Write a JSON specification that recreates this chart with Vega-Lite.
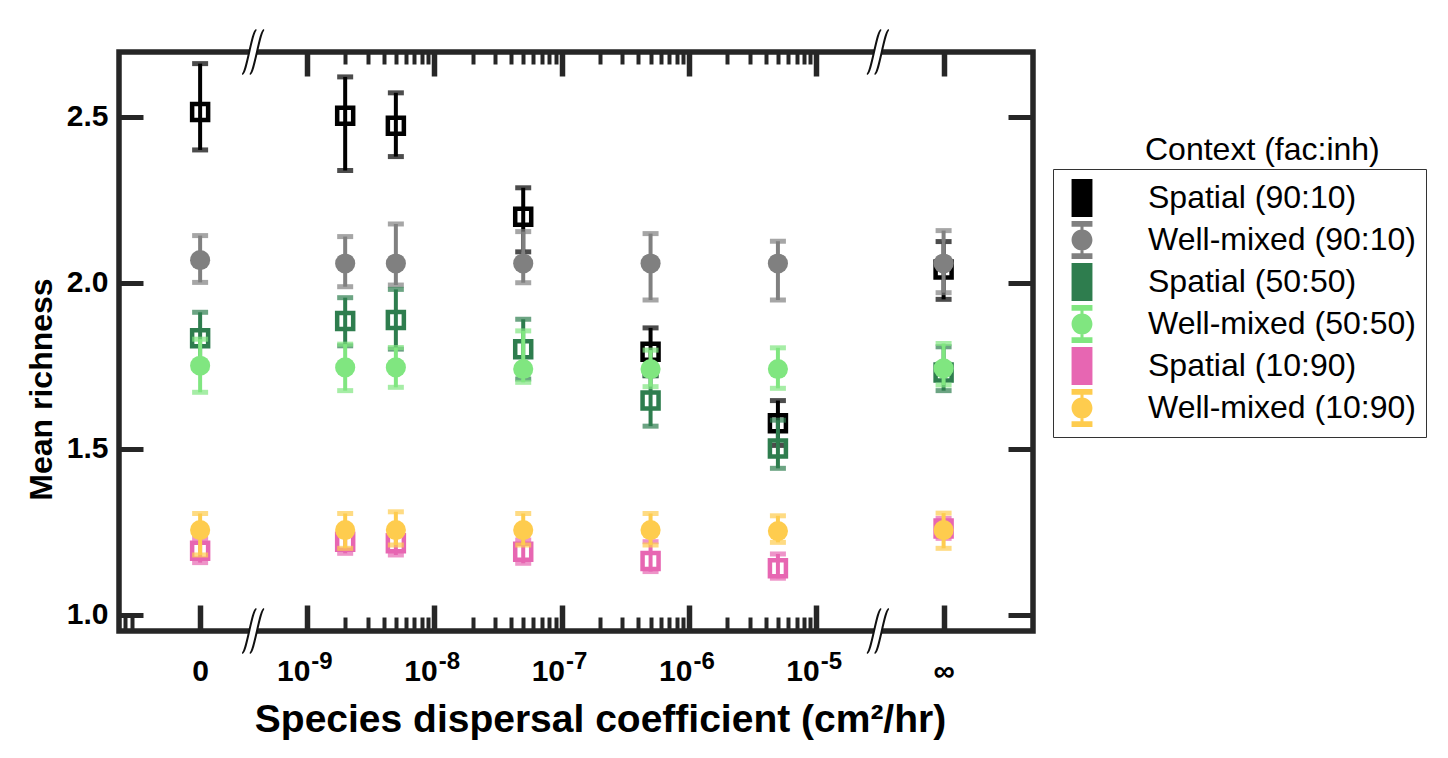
{
  "$schema": "https://vega.github.io/schema/vega-lite/v6.json",
  "width": 914,
  "height": 579,
  "autosize": {"type": "none"},
  "padding": {"left": 119, "top": 52, "right": 415, "bottom": 127},
  "background": "white",
  "config": {
    "view": {"stroke": "#262626", "strokeWidth": 5.5},
    "font": "Liberation Sans",
    "axis": {"domain": false, "grid": false, "tickColor": "#262626", "tickCap": "butt"}
  },
  "title": {
    "text": "Context (fac:inh)",
    "anchor": "start",
    "frame": "group",
    "orient": "top",
    "offset": 0,
    "dx": 1026,
    "dy": 166,
    "baseline": "alphabetic",
    "font": "Liberation Sans",
    "fontSize": 32,
    "fontWeight": "normal",
    "color": "black"
  },
  "data": {
    "values": [
      {"series": "Spatial (90:10)", "dispersal": "0", "pos": -9.838, "mean": 2.514, "lo": 2.40, "hi": 2.66},
      {"series": "Spatial (90:10)", "dispersal": "2e-9", "pos": -8.699, "mean": 2.503, "lo": 2.338, "hi": 2.62},
      {"series": "Spatial (90:10)", "dispersal": "5e-9", "pos": -8.301, "mean": 2.473, "lo": 2.38, "hi": 2.572},
      {"series": "Spatial (90:10)", "dispersal": "5e-8", "pos": -7.301, "mean": 2.199, "lo": 2.093, "hi": 2.286},
      {"series": "Spatial (90:10)", "dispersal": "5e-7", "pos": -6.301, "mean": 1.792, "lo": 1.72, "hi": 1.864},
      {"series": "Spatial (90:10)", "dispersal": "5e-6", "pos": -5.301, "mean": 1.577, "lo": 1.51, "hi": 1.645},
      {"series": "Spatial (90:10)", "dispersal": "inf", "pos": -4.0, "mean": 2.04, "lo": 1.95, "hi": 2.124},
      {"series": "Well-mixed (90:10)", "dispersal": "0", "pos": -9.838, "mean": 2.068, "lo": 2.001, "hi": 2.142},
      {"series": "Well-mixed (90:10)", "dispersal": "2e-9", "pos": -8.699, "mean": 2.058, "lo": 1.988, "hi": 2.139},
      {"series": "Well-mixed (90:10)", "dispersal": "5e-9", "pos": -8.301, "mean": 2.058, "lo": 1.993, "hi": 2.177},
      {"series": "Well-mixed (90:10)", "dispersal": "5e-8", "pos": -7.301, "mean": 2.058, "lo": 2.0, "hi": 2.154},
      {"series": "Well-mixed (90:10)", "dispersal": "5e-7", "pos": -6.301, "mean": 2.058, "lo": 1.948, "hi": 2.148},
      {"series": "Well-mixed (90:10)", "dispersal": "5e-6", "pos": -5.301, "mean": 2.058, "lo": 1.948, "hi": 2.125},
      {"series": "Well-mixed (90:10)", "dispersal": "inf", "pos": -4.0, "mean": 2.058, "lo": 1.97, "hi": 2.157},
      {"series": "Spatial (50:50)", "dispersal": "0", "pos": -9.838, "mean": 1.833, "lo": 1.75, "hi": 1.911},
      {"series": "Spatial (50:50)", "dispersal": "2e-9", "pos": -8.699, "mean": 1.885, "lo": 1.81, "hi": 1.955},
      {"series": "Spatial (50:50)", "dispersal": "5e-9", "pos": -8.301, "mean": 1.888, "lo": 1.80, "hi": 1.98},
      {"series": "Spatial (50:50)", "dispersal": "5e-8", "pos": -7.301, "mean": 1.80, "lo": 1.71, "hi": 1.89},
      {"series": "Spatial (50:50)", "dispersal": "5e-7", "pos": -6.301, "mean": 1.645, "lo": 1.568, "hi": 1.72},
      {"series": "Spatial (50:50)", "dispersal": "5e-6", "pos": -5.301, "mean": 1.501, "lo": 1.441, "hi": 1.586},
      {"series": "Spatial (50:50)", "dispersal": "inf", "pos": -4.0, "mean": 1.73, "lo": 1.675, "hi": 1.807},
      {"series": "Well-mixed (50:50)", "dispersal": "0", "pos": -9.838, "mean": 1.75, "lo": 1.67, "hi": 1.83},
      {"series": "Well-mixed (50:50)", "dispersal": "2e-9", "pos": -8.699, "mean": 1.745, "lo": 1.675, "hi": 1.815},
      {"series": "Well-mixed (50:50)", "dispersal": "5e-9", "pos": -8.301, "mean": 1.745, "lo": 1.685, "hi": 1.805},
      {"series": "Well-mixed (50:50)", "dispersal": "5e-8", "pos": -7.301, "mean": 1.74, "lo": 1.70, "hi": 1.855},
      {"series": "Well-mixed (50:50)", "dispersal": "5e-7", "pos": -6.301, "mean": 1.74, "lo": 1.687, "hi": 1.797},
      {"series": "Well-mixed (50:50)", "dispersal": "5e-6", "pos": -5.301, "mean": 1.74, "lo": 1.682, "hi": 1.804},
      {"series": "Well-mixed (50:50)", "dispersal": "inf", "pos": -4.0, "mean": 1.742, "lo": 1.692, "hi": 1.817},
      {"series": "Spatial (10:90)", "dispersal": "0", "pos": -9.838, "mean": 1.193, "lo": 1.157, "hi": 1.23},
      {"series": "Spatial (10:90)", "dispersal": "2e-9", "pos": -8.699, "mean": 1.22, "lo": 1.185, "hi": 1.255},
      {"series": "Spatial (10:90)", "dispersal": "5e-9", "pos": -8.301, "mean": 1.215, "lo": 1.18, "hi": 1.25},
      {"series": "Spatial (10:90)", "dispersal": "5e-8", "pos": -7.301, "mean": 1.19, "lo": 1.155, "hi": 1.225},
      {"series": "Spatial (10:90)", "dispersal": "5e-7", "pos": -6.301, "mean": 1.162, "lo": 1.13, "hi": 1.22},
      {"series": "Spatial (10:90)", "dispersal": "5e-6", "pos": -5.301, "mean": 1.14, "lo": 1.11, "hi": 1.183},
      {"series": "Spatial (10:90)", "dispersal": "inf", "pos": -4.0, "mean": 1.26, "lo": 1.23, "hi": 1.29},
      {"series": "Well-mixed (10:90)", "dispersal": "0", "pos": -9.838, "mean": 1.255, "lo": 1.18, "hi": 1.305},
      {"series": "Well-mixed (10:90)", "dispersal": "2e-9", "pos": -8.699, "mean": 1.255, "lo": 1.20, "hi": 1.305},
      {"series": "Well-mixed (10:90)", "dispersal": "5e-9", "pos": -8.301, "mean": 1.255, "lo": 1.21, "hi": 1.31},
      {"series": "Well-mixed (10:90)", "dispersal": "5e-8", "pos": -7.301, "mean": 1.255, "lo": 1.21, "hi": 1.305},
      {"series": "Well-mixed (10:90)", "dispersal": "5e-7", "pos": -6.301, "mean": 1.255, "lo": 1.21, "hi": 1.305},
      {"series": "Well-mixed (10:90)", "dispersal": "5e-6", "pos": -5.301, "mean": 1.252, "lo": 1.218, "hi": 1.298},
      {"series": "Well-mixed (10:90)", "dispersal": "inf", "pos": -4.0, "mean": 1.255, "lo": 1.20, "hi": 1.306}
    ]
  },
  "resolve": {
    "scale": {"x": "shared", "y": "shared", "color": "shared"},
    "axis": {"x": "independent", "y": "independent"}
  },
  "layer": [
    {
      "mark": {"type": "point", "filled": true, "opacity": 0, "size": 100},
      "encoding": {
        "x": {
          "field": "pos", "type": "quantitative", "scale": {"domain": [-10.475, -3.298]},
          "axis": {
            "orient": "bottom",
            "values": [-10.427, -10.376, -9.838, -9, -8.699, -8.523, -8.398, -8.301, -8.222, -8.155, -8.097, -8.046, -8, -7.699, -7.523, -7.398, -7.301, -7.222, -7.155, -7.097, -7.046, -7, -6.699, -6.523, -6.398, -6.301, -6.222, -6.155, -6.097, -6.046, -6, -5.699, -5.523, -5.398, -5.301, -5.222, -5.155, -5.097, -5.046, -5, -4],
            "labelExpr": "abs(datum.value + 9.838) < 0.01 ? '0' : indexof([-9, -8, -7, -6, -5], datum.value) >= 0 ? '10' : abs(datum.value + 4) < 0.01 ? '∞' : ''",
            "tickSize": {"condition": {"test": "indexof([-9.838, -9, -8, -7, -6, -5, -4], datum.value) >= 0", "value": -26}, "value": -14},
            "tickWidth": {"condition": {"test": "indexof([-9.838, -9, -8, -7, -6, -5, -4], datum.value) >= 0", "value": 5.5}, "value": 4},
            "labelAlign": {"condition": {"test": "indexof([-9, -8, -7, -6, -5], datum.value) >= 0", "value": "right"}, "value": "center"},
            "labelOffset": {"condition": {"test": "indexof([-9, -8, -7, -6, -5], datum.value) >= 0", "value": 3}, "value": 0},
            "labelFont": "Liberation Sans", "labelFontSize": 30, "labelFontWeight": "bold", "labelColor": "black",
            "labelPadding": 51, "labelOverlap": false, "labelFlush": false, "labelBound": false,
            "title": "Species dispersal coefficient (cm²/hr)",
            "titleFont": "Liberation Sans", "titleFontSize": 39, "titleFontWeight": "bold", "titleColor": "black", "titlePadding": 2,
            "titleX": 481
          }
        },
        "y": {
          "field": "mean", "type": "quantitative", "scale": {"domain": [0.951, 2.695]},
          "axis": {
            "orient": "left", "values": [1, 1.5, 2, 2.5], "format": ".1f",
            "tickSize": -24, "tickWidth": 5,
            "labelFont": "Liberation Sans", "labelFontSize": 30, "labelFontWeight": "bold", "labelColor": "black", "labelPadding": 35,
            "title": "Mean richness",
            "titleFont": "Liberation Sans", "titleFontSize": 32, "titleFontWeight": "bold", "titleColor": "black", "titlePadding": 8,
            "titleY": 337
          }
        },
        "color": {
          "field": "series", "type": "nominal",
          "scale": {
            "domain": ["Spatial (90:10)", "Well-mixed (90:10)", "Spatial (50:50)", "Well-mixed (50:50)", "Spatial (10:90)", "Well-mixed (10:90)"],
            "range": ["#000000", "#808080", "#2e7d4e", "#80e680", "#e766b2", "#fecc4e"]
          },
          "legend": {
            "title": null, "orient": "none", "legendX": 934, "legendY": 117, "padding": 10,
            "strokeColor": "#333333", "labelFont": "Liberation Sans", "labelFontSize": 32, "labelColor": "black", "labelLimit": 500,
            "symbolSize": 1444, "labelOffset": 47, "rowPadding": 4, "symbolStrokeWidth": 0, "symbolOpacity": 1
          }
        },
        "shape": {
          "field": "series", "type": "nominal",
          "scale": {
            "domain": ["Spatial (90:10)", "Well-mixed (90:10)", "Spatial (50:50)", "Well-mixed (50:50)", "Spatial (10:90)", "Well-mixed (10:90)"],
            "range": [
              "M-0.55,-1H0.55V1H-0.55Z",
              "M-0.55,-1H0.55V-0.7H-0.55ZM-0.55,0.7H0.55V1H-0.55ZM-0.08,-0.7H0.08V0.7H-0.08ZM-0.55,0A0.55,0.55 0 1,1 0.55,0A0.55,0.55 0 1,1 -0.55,0Z",
              "M-0.55,-1H0.55V1H-0.55Z",
              "M-0.55,-1H0.55V-0.7H-0.55ZM-0.55,0.7H0.55V1H-0.55ZM-0.08,-0.7H0.08V0.7H-0.08ZM-0.55,0A0.55,0.55 0 1,1 0.55,0A0.55,0.55 0 1,1 -0.55,0Z",
              "M-0.55,-1H0.55V1H-0.55Z",
              "M-0.55,-1H0.55V-0.7H-0.55ZM-0.55,0.7H0.55V1H-0.55ZM-0.08,-0.7H0.08V0.7H-0.08ZM-0.55,0A0.55,0.55 0 1,1 0.55,0A0.55,0.55 0 1,1 -0.55,0Z"
            ]
          },
          "legend": {
            "title": null, "orient": "none", "legendX": 934, "legendY": 117, "padding": 10,
            "strokeColor": "#333333", "labelFont": "Liberation Sans", "labelFontSize": 32, "labelColor": "black", "labelLimit": 500,
            "symbolSize": 1444, "labelOffset": 47, "rowPadding": 4, "symbolStrokeWidth": 0, "symbolOpacity": 1
          }
        }
      }
    },
    {
      "transform": [{"filter": {"field": "series", "equal": "Spatial (90:10)"}}],
      "encoding": {
        "x": {"field": "pos", "type": "quantitative", "scale": {"domain": [-10.475, -3.298]}, "axis": null},
        "color": {"field": "series", "type": "nominal", "legend": null}
      },
      "layer": [
        {"mark": {"type": "errorbar", "thickness": 4, "ticks": {"size": 16, "thickness": 5}},
         "encoding": {"y": {"field": "lo", "type": "quantitative", "scale": {"domain": [0.951, 2.695]}, "axis": null}, "y2": {"field": "hi"}}},
        {"mark": {"type": "point", "shape": "square", "filled": false, "strokeWidth": 4.5, "size": 256, "opacity": 1},
         "encoding": {"y": {"field": "mean", "type": "quantitative", "scale": {"domain": [0.951, 2.695]}, "axis": null}}}
      ]
    },
    {
      "transform": [{"filter": {"field": "series", "equal": "Well-mixed (90:10)"}}],
      "encoding": {
        "x": {"field": "pos", "type": "quantitative", "scale": {"domain": [-10.475, -3.298]}, "axis": null},
        "color": {"field": "series", "type": "nominal", "legend": null}
      },
      "layer": [
        {"mark": {"type": "errorbar", "thickness": 4, "ticks": {"size": 16, "thickness": 5}},
         "encoding": {"y": {"field": "lo", "type": "quantitative", "scale": {"domain": [0.951, 2.695]}, "axis": null}, "y2": {"field": "hi"}}},
        {"mark": {"type": "point", "shape": "circle", "filled": true, "size": 405, "opacity": 1},
         "encoding": {"y": {"field": "mean", "type": "quantitative", "scale": {"domain": [0.951, 2.695]}, "axis": null}}}
      ]
    },
    {
      "transform": [{"filter": {"field": "series", "equal": "Spatial (50:50)"}}],
      "encoding": {
        "x": {"field": "pos", "type": "quantitative", "scale": {"domain": [-10.475, -3.298]}, "axis": null},
        "color": {"field": "series", "type": "nominal", "legend": null}
      },
      "layer": [
        {"mark": {"type": "errorbar", "thickness": 4, "ticks": {"size": 16, "thickness": 5}},
         "encoding": {"y": {"field": "lo", "type": "quantitative", "scale": {"domain": [0.951, 2.695]}, "axis": null}, "y2": {"field": "hi"}}},
        {"mark": {"type": "point", "shape": "square", "filled": false, "strokeWidth": 4.5, "size": 256, "opacity": 1},
         "encoding": {"y": {"field": "mean", "type": "quantitative", "scale": {"domain": [0.951, 2.695]}, "axis": null}}}
      ]
    },
    {
      "transform": [{"filter": {"field": "series", "equal": "Well-mixed (50:50)"}}],
      "encoding": {
        "x": {"field": "pos", "type": "quantitative", "scale": {"domain": [-10.475, -3.298]}, "axis": null},
        "color": {"field": "series", "type": "nominal", "legend": null}
      },
      "layer": [
        {"mark": {"type": "errorbar", "thickness": 4, "ticks": {"size": 16, "thickness": 5}},
         "encoding": {"y": {"field": "lo", "type": "quantitative", "scale": {"domain": [0.951, 2.695]}, "axis": null}, "y2": {"field": "hi"}}},
        {"mark": {"type": "point", "shape": "circle", "filled": true, "size": 405, "opacity": 1},
         "encoding": {"y": {"field": "mean", "type": "quantitative", "scale": {"domain": [0.951, 2.695]}, "axis": null}}}
      ]
    },
    {
      "transform": [{"filter": {"field": "series", "equal": "Spatial (10:90)"}}],
      "encoding": {
        "x": {"field": "pos", "type": "quantitative", "scale": {"domain": [-10.475, -3.298]}, "axis": null},
        "color": {"field": "series", "type": "nominal", "legend": null}
      },
      "layer": [
        {"mark": {"type": "errorbar", "thickness": 4, "ticks": {"size": 16, "thickness": 5}},
         "encoding": {"y": {"field": "lo", "type": "quantitative", "scale": {"domain": [0.951, 2.695]}, "axis": null}, "y2": {"field": "hi"}}},
        {"mark": {"type": "point", "shape": "square", "filled": false, "strokeWidth": 4.5, "size": 256, "opacity": 1},
         "encoding": {"y": {"field": "mean", "type": "quantitative", "scale": {"domain": [0.951, 2.695]}, "axis": null}}}
      ]
    },
    {
      "transform": [{"filter": {"field": "series", "equal": "Well-mixed (10:90)"}}],
      "encoding": {
        "x": {"field": "pos", "type": "quantitative", "scale": {"domain": [-10.475, -3.298]}, "axis": null},
        "color": {"field": "series", "type": "nominal", "legend": null}
      },
      "layer": [
        {"mark": {"type": "errorbar", "thickness": 4, "ticks": {"size": 16, "thickness": 5}},
         "encoding": {"y": {"field": "lo", "type": "quantitative", "scale": {"domain": [0.951, 2.695]}, "axis": null}, "y2": {"field": "hi"}}},
        {"mark": {"type": "point", "shape": "circle", "filled": true, "size": 405, "opacity": 1},
         "encoding": {"y": {"field": "mean", "type": "quantitative", "scale": {"domain": [0.951, 2.695]}, "axis": null}}}
      ]
    },
    {
      "data": {"values": [
        {"pos": -9.422, "edge": 2.695}, {"pos": -9.422, "edge": 0.951},
        {"pos": -4.516, "edge": 2.695}, {"pos": -4.516, "edge": 0.951}
      ]},
      "mark": {"type": "point", "shape": "M-0.5,1C-0.3,1 -0.05,-1 0.15,-1L0.5,-1C0.3,-1 0.05,1 -0.15,1Z", "size": 1936, "filled": true, "color": "white", "fill": "white", "opacity": 1, "strokeWidth": 0},
      "encoding": {
        "x": {
          "field": "pos", "type": "quantitative", "scale": {"domain": [-10.475, -3.298]},
          "axis": {
            "orient": "top", "labels": false, "title": null,
            "values": [-9, -8.699, -8.523, -8.398, -8.301, -8.222, -8.155, -8.097, -8.046, -8, -7.699, -7.523, -7.398, -7.301, -7.222, -7.155, -7.097, -7.046, -7, -6.699, -6.523, -6.398, -6.301, -6.222, -6.155, -6.097, -6.046, -6, -5.699, -5.523, -5.398, -5.301, -5.222, -5.155, -5.097, -5.046, -5, -4],
            "tickSize": {"condition": {"test": "indexof([-9, -8, -7, -6, -5, -4], datum.value) >= 0", "value": -24}, "value": -12},
            "tickWidth": {"condition": {"test": "indexof([-9, -8, -7, -6, -5, -4], datum.value) >= 0", "value": 5.5}, "value": 4}
          }
        },
        "y": {
          "field": "edge", "type": "quantitative", "scale": {"domain": [0.951, 2.695]},
          "axis": {"orient": "right", "labels": false, "title": null, "values": [1, 1.5, 2, 2.5], "tickSize": -25, "tickWidth": 5}
        }
      }
    },
    {
      "data": {"values": [
        {"pos": -9.422, "edge": 2.695}, {"pos": -9.422, "edge": 0.951},
        {"pos": -4.516, "edge": 2.695}, {"pos": -4.516, "edge": 0.951}
      ]},
      "mark": {"type": "point", "shape": "M-0.5,1C-0.3,1 -0.05,-1 0.15,-1M-0.15,1C0.05,1 0.3,-1 0.5,-1", "size": 1936, "filled": false, "color": "#111111", "stroke": "#111111", "strokeWidth": 2, "opacity": 1},
      "encoding": {
        "x": {
          "field": "pos", "type": "quantitative", "scale": {"domain": [-10.475, -3.298]},
          "axis": {
            "orient": "bottom", "title": null, "ticks": false, "tickSize": 0,
            "values": [-9, -8, -7, -6, -5],
            "labelExpr": "'-' + (-datum.value)",
            "labelAlign": "left", "labelOffset": 4,
            "labelFont": "Liberation Sans", "labelFontSize": 24, "labelFontWeight": "bold", "labelColor": "black",
            "labelPadding": 18, "labelOverlap": false, "labelFlush": false, "labelBound": false
          }
        },
        "y": {"field": "edge", "type": "quantitative", "scale": {"domain": [0.951, 2.695]}, "axis": null}
      }
    }
  ]
}
